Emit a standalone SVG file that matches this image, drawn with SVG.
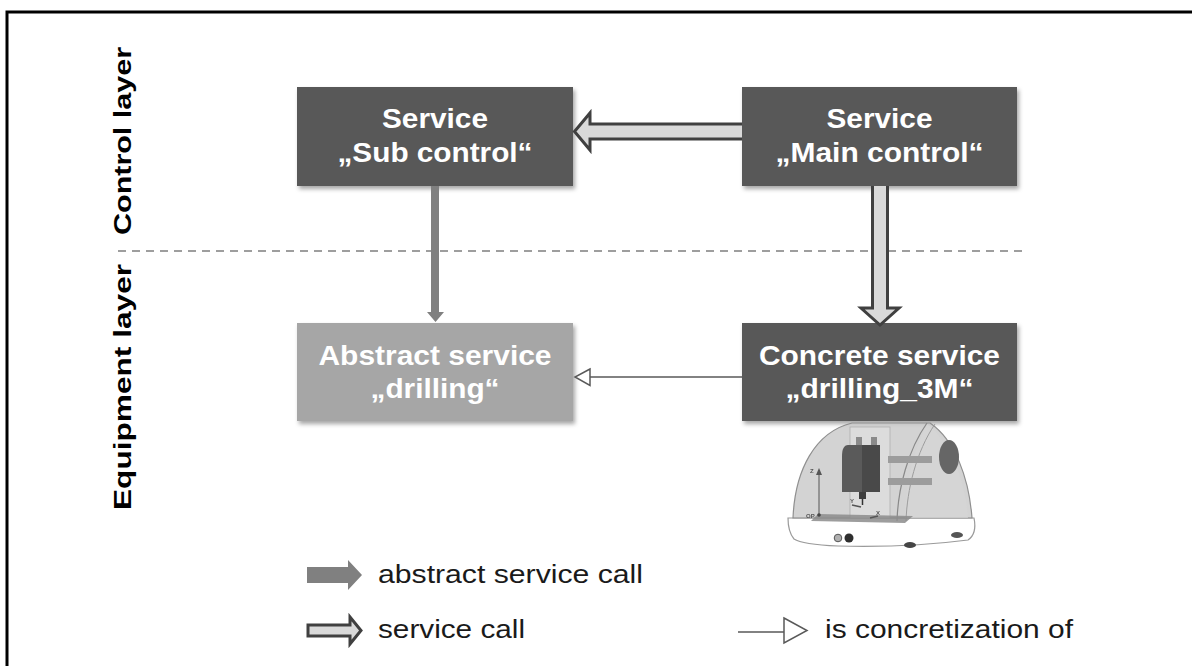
<svg xmlns="http://www.w3.org/2000/svg" width="1192" height="666" viewBox="0 0 1192 666">
  <defs>
    <filter id="shadow" x="-10%" y="-10%" width="125%" height="130%">
      <feDropShadow dx="2" dy="3" stdDeviation="2" flood-color="#000" flood-opacity="0.35"/>
    </filter>
    <filter id="soft" x="-5%" y="-5%" width="110%" height="110%">
      <feGaussianBlur stdDeviation="0.5"/>
    </filter>
  </defs>
  <style>
    .box-dark { fill: #595959; filter: url(#shadow); }
    .box-light { fill: #a6a6a6; filter: url(#shadow); }
    .btxt { font-family: "Liberation Sans", Arial, sans-serif; font-weight: bold; font-size: 28px; fill: #ffffff; text-anchor: middle; }
    .layer { font-family: "Liberation Sans", Arial, sans-serif; font-weight: bold; font-size: 23.5px; fill: #000000; text-anchor: middle; }
    .legend { font-family: "Liberation Sans", Arial, sans-serif; font-size: 26px; fill: #1a1a1a; }
    .call { fill: #d9d9d9; stroke: #404040; stroke-width: 3; stroke-linejoin: miter; }
    .abstract-call { fill: #808080; }
    .concr { fill: none; stroke: #595959; stroke-width: 1.5; }
    .concr-head { fill: #ffffff; stroke: #595959; stroke-width: 1.5; stroke-linejoin: miter; }
    .tiny { font-family: "Liberation Sans", Arial, sans-serif; font-weight: bold; font-size: 6px; fill: #555555; }
  </style>

  <rect width="1192" height="666" fill="#ffffff"/>
  <!-- frame -->
  <rect x="7" y="12" width="1200" height="680" fill="none" stroke="#000000" stroke-width="3"/>

  <!-- layer separator -->
  <line x1="118" y1="251" x2="1022" y2="251" stroke="#7f7f7f" stroke-width="1.5" stroke-dasharray="8 6"/>

  <!-- layer labels -->
  <g id="label-control">
    <text class="layer" transform="translate(131,141) rotate(-90)" textLength="188" lengthAdjust="spacingAndGlyphs">Control layer</text>
  </g>
  <g id="label-equipment">
    <text class="layer" transform="translate(131,387) rotate(-90)" textLength="246" lengthAdjust="spacingAndGlyphs">Equipment layer</text>
  </g>

  <!-- nodes -->
  <g id="sub-control">
    <rect class="box-dark" x="297" y="87" width="276" height="99"/>
    <text class="btxt" x="435" y="128" textLength="106" lengthAdjust="spacingAndGlyphs">Service</text>
    <text class="btxt" x="435" y="162" textLength="195" lengthAdjust="spacingAndGlyphs">„Sub control“</text>
  </g>
  <g id="main-control">
    <rect class="box-dark" x="742" y="87" width="275" height="99"/>
    <text class="btxt" x="879.5" y="128" textLength="106" lengthAdjust="spacingAndGlyphs">Service</text>
    <text class="btxt" x="879.5" y="162" textLength="208" lengthAdjust="spacingAndGlyphs">„Main control“</text>
  </g>
  <g id="abstract-drilling">
    <rect class="box-light" x="297" y="323" width="276" height="98"/>
    <text class="btxt" x="435" y="365" textLength="233" lengthAdjust="spacingAndGlyphs">Abstract service</text>
    <text class="btxt" x="435" y="398" textLength="129" lengthAdjust="spacingAndGlyphs">„drilling“</text>
  </g>
  <g id="concrete-drilling">
    <rect class="box-dark" x="742" y="323" width="275" height="98"/>
    <text class="btxt" x="879.5" y="365" textLength="241" lengthAdjust="spacingAndGlyphs">Concrete service</text>
    <text class="btxt" x="879.5" y="398" textLength="188" lengthAdjust="spacingAndGlyphs">„drilling_3M“</text>
  </g>

  <!-- connectors -->
  <g id="connectors">
    <!-- service call: main control -> sub control -->
    <path class="call" d="M742,124 L590,124 L590,113 L574.5,131.5 L590,150 L590,139 L742,139"/>
    <!-- service call: main control -> concrete service -->
    <path class="call" d="M872.5,186 L872.5,308 L861,308 L880,325 L899,308 L887.5,308 L887.5,186"/>
    <!-- abstract service call: sub control -> abstract service -->
    <path class="abstract-call" d="M431,186 L439,186 L439,312 L444,312 L435.5,322 L427,312 L431,312 Z"/>
    <!-- concretization: concrete service -> abstract service -->
    <line class="concr" x1="742" y1="377" x2="590" y2="377"/>
    <path class="concr-head" d="M590,369 L575,377 L590,385.5 Z"/>
  </g>

  <!-- milling / drilling machine -->
  <g id="machine" filter="url(#soft)">
    <!-- base -->
    <path d="M788,518 L974,518 C976,528 974,536 968,540 C930,545 880,547 838,546 C815,545 800,543 794,539 C789,533 788,526 788,518 Z" fill="#ffffff" stroke="#9a9a9a" stroke-width="1.2"/>
    <!-- cover body -->
    <path d="M793,518 C795,470 815,432 852,423 L930,423 C955,440 969,478 972,518 Z" fill="#c4c4c4" fill-opacity="0.75" stroke="#8f8f8f" stroke-width="1.2"/>
    <!-- inner back panel -->
    <rect x="850" y="427" width="40" height="91" fill="#dedede" fill-opacity="0.85" stroke="#b0b0b0" stroke-width="0.8"/>
    <!-- right side panel behind the door -->
    <path d="M927,424 C950,442 965,478 968,518 L905,518 C905,485 913,452 927,424 Z" fill="#d6d6d6" fill-opacity="0.7"/>
    <!-- door edges -->
    <path d="M927,423 C908,450 898,488 897,521" fill="none" stroke="#888888" stroke-width="1.2"/>
    <path d="M935,424 C916,452 907,490 906,521" fill="none" stroke="#9c9c9c" stroke-width="1"/>
    <!-- horizontal bars -->
    <rect x="888" y="456" width="44" height="7" fill="#9c9c9c"/>
    <rect x="888" y="478" width="44" height="7" fill="#9c9c9c"/>
    <!-- dark oval -->
    <ellipse cx="949" cy="457" rx="10" ry="17" fill="#666666"/>
    <!-- rails on top of spindle head -->
    <rect x="856" y="437" width="6" height="10" fill="#8a8a8a"/>
    <rect x="871" y="437" width="6" height="10" fill="#8a8a8a"/>
    <!-- spindle housing -->
    <path d="M848,445 L880,445 L880,492 L842,492 L842,456 C842,449 844,445 848,445 Z" fill="#5a5a5a"/>
    <rect x="862" y="445" width="18" height="47" fill="#4a4a4a"/>
    <!-- spindle and tool -->
    <rect x="859" y="492" width="7" height="7" fill="#3c3c3c"/>
    <line x1="862.5" y1="499" x2="862.5" y2="505" stroke="#333333" stroke-width="1.5"/>
    <!-- work table -->
    <path d="M818,514 L913,516 L905,523 L811,521 Z" fill="#8c8c8c" fill-opacity="0.85"/>
    <!-- axes -->
    <line x1="819" y1="515" x2="819" y2="474" stroke="#555555" stroke-width="1"/>
    <path d="M816,475 L819,468 L822,475 Z" fill="#555555"/>
    <circle cx="819" cy="515" r="1.8" fill="#444444"/>
    <path d="M852,505 L861,507" stroke="#555555" stroke-width="1.5"/>
    <path d="M870,518 L878,516" stroke="#555555" stroke-width="1.5"/>
    <text class="tiny" x="810" y="473">Z</text>
    <text class="tiny" x="850" y="503">Y</text>
    <text class="tiny" x="876" y="515">X</text>
    <text class="tiny" x="806" y="518">OP</text>
    <!-- buttons -->
    <circle cx="838" cy="538" r="3.8" fill="#b0b0b0" stroke="#555555" stroke-width="1"/>
    <circle cx="849" cy="538" r="4.5" fill="#2e2e2e"/>
    <!-- feet -->
    <ellipse cx="910" cy="545" rx="6" ry="3" fill="#444444"/>
    <ellipse cx="957" cy="535" rx="6" ry="3" fill="#555555"/>
  </g>

  <!-- legend -->
  <g id="legend-abstract-call">
    <path class="abstract-call" d="M307,567 L348,567 L348,560 L362,575 L348,590 L348,583 L307,583 Z"/>
    <text class="legend" x="378" y="583" textLength="265" lengthAdjust="spacingAndGlyphs">abstract service call</text>
  </g>
  <g id="legend-service-call">
    <path class="call" d="M308,625 L350,625 L350,617 L361,630.5 L350,644 L350,636 L308,636 Z"/>
    <text class="legend" x="378" y="638" textLength="147" lengthAdjust="spacingAndGlyphs">service call</text>
  </g>
  <g id="legend-concretization">
    <line class="concr" x1="738" y1="632" x2="784" y2="632"/>
    <path class="concr-head" d="M784,618 L807,630.5 L784,643 Z"/>
    <text class="legend" x="825" y="638" textLength="248" lengthAdjust="spacingAndGlyphs">is concretization of</text>
  </g>
</svg>
